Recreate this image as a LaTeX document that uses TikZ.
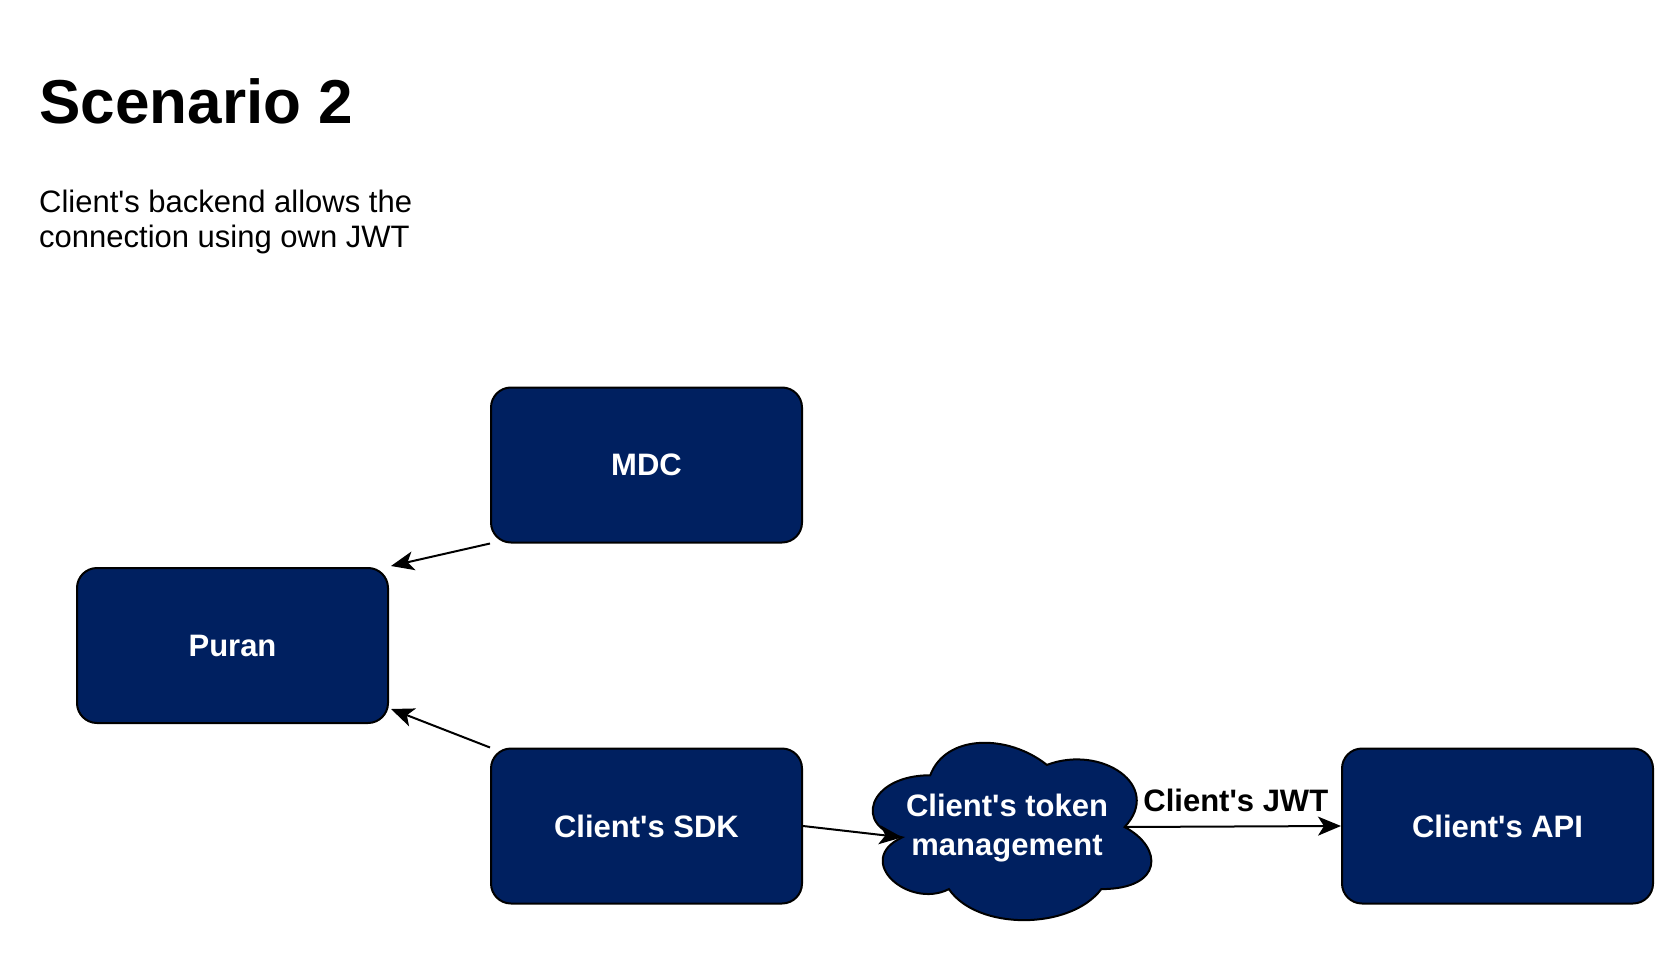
\documentclass[tikz,border=0pt]{standalone}
\usepackage{fontspec}
\setmainfont{Liberation Sans}[Ligatures=TeXOff]
\usetikzlibrary{arrows.meta,positioning}
\definecolor{navy}{HTML}{002060}

\begin{document}
\begin{tikzpicture}[x=1pt, y=-1pt,
  every node/.style={font=\bfseries\fontsize{31}{39.5}\selectfont},
  block/.style={draw=black, line width=2pt, fill=navy, text=white, rounded corners=20pt,
    minimum width=311pt, minimum height=155pt, inner sep=0pt},
  cloudline/.style={draw=black, fill=navy, line width=2pt},
  link/.style={line width=2pt, -{Stealth[length=23pt, width=19pt, inset=6pt]}}]
\useasboundingbox (0,0) rectangle (1680,957);
\node[anchor=base west, font=\bfseries\fontsize{62}{74}\selectfont] (title) at (36,124) {Scenario 2};
\node[anchor=base west, align=left, inner sep=0pt, font=\fontsize{31}{35.5}\selectfont] (subtitle) at (39,248)
  {Client's backend allows the\\connection using own JWT};
\node[block] (mdc) at (646.5,465) {MDC};
\node[block] (puran) at (232.5,645.5) {Puran};
\node[block] (sdk) at (646.5,826) {Client's SDK};
\node[block] (api) at (1497.5,826) {Client's API};
% cloud outline, unit box 311 x 207
\begin{scope}[shift={(852.5,723.5)}, x=311pt, y=-207pt]
\path[cloudline] (0.25,0.25) .. controls (0.05,0.25) and (0,0.5) .. (0.16,0.55)
  .. controls (0,0.66) and (0.18,0.9) .. (0.31,0.8)
  .. controls (0.4,1) and (0.7,1) .. (0.8,0.8)
  .. controls (1,0.8) and (1,0.6) .. (0.875,0.5)
  .. controls (1,0.3) and (0.8,0.1) .. (0.625,0.2)
  .. controls (0.5,0.05) and (0.3,0.05) .. (0.25,0.25) -- cycle;
\coordinate (tokenin) at (0.16,0.55);
\coordinate (tokenout) at (0.875,0.5);
\end{scope}
\node[text=white, align=center] (token) at (1007,828) {Client's token\\management};
\draw[link] (mdc.south west) -- ([shift={(2,-1)}]puran.north east);
\draw[link] (sdk.north west) -- ([shift={(2,-15)}]puran.south east);
\draw[link] (sdk.east) -- (tokenin);
\draw[link] (tokenout) -- (api.west)
  node[midway, above=14pt, xshift=3pt, inner sep=0pt, text=black] (jwt) {Client's JWT};
\end{tikzpicture}
\end{document}
